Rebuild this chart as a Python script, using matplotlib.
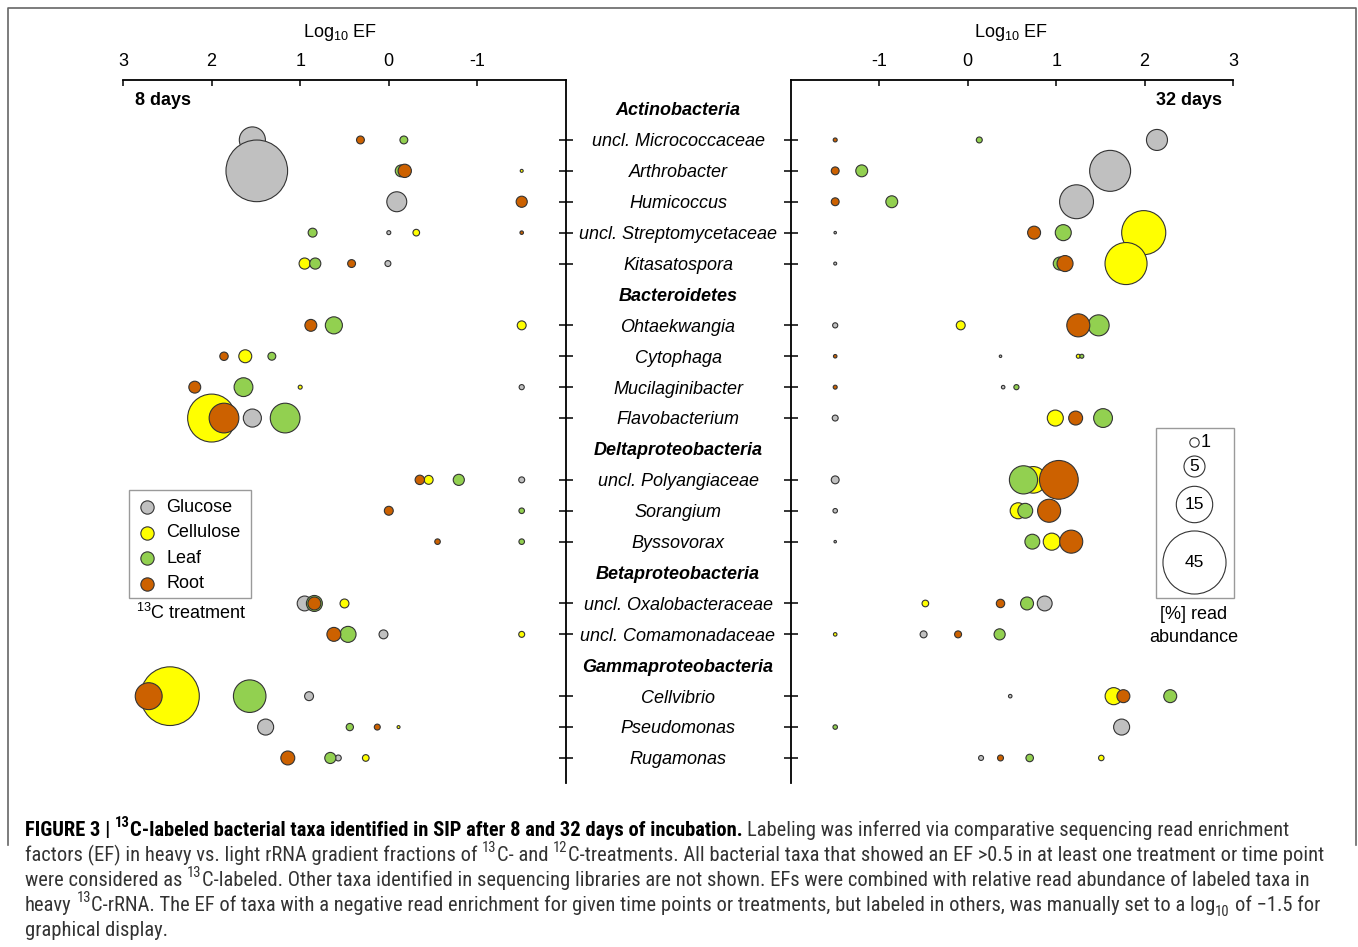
import matplotlib
matplotlib.use('Agg')
import matplotlib.pyplot as plt
import matplotlib.transforms as mtransforms
from matplotlib import font_manager as fm
from matplotlib.patches import Rectangle

plt.rcParams['font.family'] = ['Liberation Sans', 'DejaVu Sans']
plt.rcParams['mathtext.fontset'] = 'custom'
plt.rcParams['mathtext.rm'] = 'Liberation Sans'
plt.rcParams['mathtext.it'] = 'Liberation Sans:italic'
plt.rcParams['mathtext.bf'] = 'Liberation Sans:bold'
plt.rcParams['mathtext.default'] = 'regular'

# ---------------------------------------------------------------- data
rows = ['Actinobacteria', 'uncl. Micrococcaceae', 'Arthrobacter', 'Humicoccus',
        'uncl. Streptomycetaceae', 'Kitasatospora',
        'Bacteroidetes', 'Ohtaekwangia', 'Cytophaga', 'Mucilaginibacter', 'Flavobacterium',
        'Deltaproteobacteria', 'uncl. Polyangiaceae', 'Sorangium', 'Byssovorax',
        'Betaproteobacteria', 'uncl. Oxalobacteraceae', 'uncl. Comamonadaceae',
        'Gammaproteobacteria', 'Cellvibrio', 'Pseudomonas', 'Rugamonas']
headers = ['Actinobacteria', 'Bacteroidetes', 'Deltaproteobacteria',
           'Betaproteobacteria', 'Gammaproteobacteria']
taxa = [r for r in rows if r not in headers]

treatments = ['Glucose', 'Cellulose', 'Leaf', 'Root']
colors = {'Glucose': '#c0c0c0', 'Cellulose': '#ffff00', 'Leaf': '#92d050', 'Root': '#cc6100'}

# log10 EF and [%] read abundance, one value per taxon (None = not shown)
ef_8d = {
    'Glucose':   [1.54, 1.49, -0.09, 0.00, 0.01, None, None, -1.5, 1.54, -1.5, None, None, 0.95, 0.06, 0.90, 1.39, 0.57],
    'Cellulose': [None, -1.5, None, -0.31, 0.95, -1.5, 1.62, 1.00, 2.00, -0.45, None, None, 0.50, -1.5, 2.47, -0.11, 0.26],
    'Leaf':      [-0.17, -0.14, None, 0.86, 0.83, 0.62, 1.32, 1.64, 1.17, -0.79, -1.5, -1.5, 0.84, 0.46, 1.57, 0.44, 0.66],
    'Root':      [0.32, -0.18, -1.5, -1.5, 0.42, 0.88, 1.86, 2.19, 1.86, -0.35, 0.00, -0.55, 0.84, 0.62, 2.71, 0.13, 1.14],
}
ab_8d = {
    'Glucose':   [7.7, 43, 4.5, 0.18, 0.4, None, None, 0.3, 3.7, 0.4, None, None, 2.5, 0.9, 0.9, 2.9, 0.4],
    'Cellulose': [None, 0.1, None, 0.5, 1.4, 0.9, 1.9, 0.18, 26, 0.9, None, None, 0.9, 0.4, 39, 0.1, 0.5],
    'Leaf':      [0.7, 1.6, None, 0.9, 1.4, 3.3, 0.7, 4.0, 10, 1.4, 0.35, 0.35, 2.9, 2.9, 12, 0.6, 1.4],
    'Root':      [0.7, 2.0, 1.4, 0.14, 0.7, 1.6, 0.8, 1.6, 10, 1.0, 0.9, 0.35, 1.9, 2.2, 8.2, 0.4, 2.2],
}
ef_32d = {
    'Glucose':   [2.14, 1.61, 1.23, -1.5, -1.5, -1.5, 0.37, 0.40, -1.5, -1.5, -1.5, -1.5, 0.87, -0.50, 0.48, 1.74, 0.15],
    'Cellulose': [None, None, None, 1.99, 1.79, -0.08, 1.25, None, 0.99, 0.74, 0.57, 0.95, -0.48, -1.5, 1.65, None, 1.51],
    'Leaf':      [0.13, -1.20, -0.86, 1.08, 1.04, 1.48, 1.29, 0.55, 1.53, 0.63, 0.65, 0.73, 0.67, 0.36, 2.29, -1.5, 0.70],
    'Root':      [-1.5, -1.5, -1.5, 0.75, 1.10, 1.25, -1.5, -1.5, 1.22, 1.03, 0.92, 1.17, 0.37, -0.11, 1.76, None, 0.37],
}
ab_32d = {
    'Glucose':   [5.0, 19, 13, 0.07, 0.1, 0.3, 0.07, 0.14, 0.4, 0.7, 0.23, 0.07, 2.5, 0.55, 0.14, 2.9, 0.28],
    'Cellulose': [None, None, None, 22, 20, 0.9, 0.18, None, 2.9, 8.0, 2.9, 3.3, 0.5, 0.14, 3.3, None, 0.34],
    'Leaf':      [0.4, 1.6, 1.6, 2.9, 1.9, 5.0, 0.18, 0.3, 4.0, 9.0, 2.5, 2.5, 1.9, 1.4, 1.9, 0.23, 0.64],
    'Root':      [0.18, 0.7, 0.7, 1.9, 2.9, 6.0, 0.14, 0.18, 2.2, 17, 6.0, 6.0, 0.8, 0.55, 1.9, None, 0.4],
}
size_legend = [1, 5, 15, 45]
xticks = [3, 2, 1, 0, -1]

# ---------------------------------------------------------------- layout
W, H = 1358, 947
S_PER_UNIT = 45.8          # points^2 per % read abundance
EDGE = '#333333'

fig = plt.figure(figsize=(W / 100, H / 100), dpi=100)
ypos = {r: i for i, r in enumerate(rows)}

axL = fig.add_axes([123 / W, 1 - 783 / H, 443 / W, 703 / H])
axR = fig.add_axes([791 / W, 1 - 783 / H, 442 / W, 703 / H])


def draw_panel(ax, ef, ab, xlim, spine_side):
    for tr in treatments:
        xs, ys, ss = [], [], []
        for t, e, a in zip(taxa, ef[tr], ab[tr]):
            if e is None:
                continue
            xs.append(e)
            ys.append(ypos[t])
            ss.append(a * S_PER_UNIT)
        ax.scatter(xs, ys, s=ss, c=colors[tr], edgecolors=EDGE, linewidths=0.8,
                   clip_on=False, zorder=3)
    ax.set_xlim(*xlim)
    ax.set_ylim(21.81, -0.94)
    ax.xaxis.set_ticks_position('top')
    ax.set_xticks(xticks)
    ax.set_xticklabels([str(v) for v in xticks])
    ax.tick_params(axis='x', direction='in', length=4.5, width=1.1, labelsize=13, pad=7)
    ax.yaxis.set_ticks_position(spine_side)
    ax.set_yticks([ypos[t] for t in taxa])
    ax.tick_params(axis='y', direction='inout', length=10, width=1.1,
                   labelleft=False, labelright=False)
    for side in ['top', 'bottom', 'left', 'right']:
        ax.spines[side].set_visible(side in ('top', spine_side))
        ax.spines[side].set_linewidth(1.3)
    ax.patch.set_alpha(0)


draw_panel(axL, ef_8d, ab_8d, (3, -2), 'right')
draw_panel(axR, ef_32d, ab_32d, (-2, 3), 'left')

# centre taxon labels (baseline shifted so the glyphs sit centred on the row)
trans = mtransforms.blended_transform_factory(fig.transFigure, axL.transData)
trans = mtransforms.offset_copy(trans, fig=fig, y=-4.6, units='points')
for r in rows:
    hdr = r in headers
    fig.text(678 / W, ypos[r], r, transform=trans, ha='center', va='baseline', fontsize=13,
             style='italic', weight='bold' if hdr else 'normal')

# overlay in pixel coordinates for annotations
ov = fig.add_axes([0, 0, 1, 1], zorder=-1)
ov.set_xlim(0, W)
ov.set_ylim(H, 0)
ov.axis('off')

ov.text(340, 32, 'Log$_{10}$ EF', ha='center', va='center', fontsize=13)
ov.text(1011, 32, 'Log$_{10}$ EF', ha='center', va='center', fontsize=13)
ov.text(135, 100, '8 days', ha='left', va='center', fontsize=13, weight='bold')
ov.text(1222, 100, '32 days', ha='right', va='center', fontsize=13, weight='bold')

# frame
ov.plot([8, 8, 1356, 1356], [845, 8, 8, 845], color='#666666', lw=1.2, clip_on=False)

# treatment legend
ov.add_patch(Rectangle((129, 490), 122, 108, fill=False, edgecolor='#9a9a9a', lw=1))
for i, tr in enumerate(treatments):
    yy = 507 + i * 25.6
    ov.scatter([147], [yy], s=2.0 * S_PER_UNIT, c=colors[tr], edgecolors=EDGE, linewidths=0.8)
    ov.text(166, yy, tr, ha='left', va='center', fontsize=13)
ov.text(136, 613, '$^{13}$C treatment', ha='left', va='center', fontsize=13)

# size legend
ov.add_patch(Rectangle((1156, 428), 78, 170, fill=False, edgecolor='#9a9a9a', lw=1))
size_y = [442, 466, 504, 562]
for v, yy in zip(size_legend, size_y):
    ov.scatter([1194], [yy], s=v * S_PER_UNIT, c='white', edgecolors=EDGE, linewidths=0.8, zorder=3)
    if v == 1:
        ov.text(1201, yy, str(v), ha='left', va='center', fontsize=13, zorder=4)
    else:
        ov.text(1194, yy, str(v), ha='center', va='center', fontsize=12.5, zorder=4)
ov.text(1194, 614, '[%] read', ha='center', va='center', fontsize=13)
ov.text(1194, 637, 'abundance', ha='center', va='center', fontsize=13)


# ---------------------------------------------------------------- caption
def pick_condensed():
    prio = ['Liberation Sans Narrow', 'Roboto Condensed', 'Open Sans Condensed',
            'Noto Sans', 'DejaVu Sans Condensed', 'Roboto', 'Open Sans', 'DejaVu Sans']
    found = {}
    for f in fm.fontManager.ttflist:
        n = f.name
        if any(b in n for b in ('Mono', 'Serif', 'CJK', 'Display')):
            continue
        st = str(f.stretch)
        cond = ('Narrow' in n or 'Condensed' in n or
                st in ('condensed', 'semi-condensed', 'extra-condensed'))
        if cond:
            found.setdefault((n, st), set()).add(f.weight)
    if not found:
        return 'Liberation Sans', 'normal'
    def score(key):
        n, st = key
        p = prio.index(n) if n in prio else len(prio)
        st_rank = {'condensed': 0, 'semi-condensed': 1, 'extra-condensed': 2}.get(st, 1)
        return (p, st_rank)
    return sorted(found, key=score)[0]


cap_family, cap_stretch = pick_condensed()
renderer = fig.canvas.get_renderer()

caption = [
    [("FIGURE 3 | ", 'b'), ("13", 'bsup'),
     ("C-labeled bacterial taxa identified in SIP after 8 and 32 days of incubation.", 'b'),
     (" Labeling was inferred via comparative sequencing read enrichment", 'r')],
    [("factors (EF) in heavy vs. light rRNA gradient fractions of ", 'r'), ("13", 'sup'),
     ("C- and ", 'r'), ("12", 'sup'),
     ("C-treatments. All bacterial taxa that showed an EF >0.5 in at least one treatment or time point", 'r')],
    [("were considered as ", 'r'), ("13", 'sup'),
     ("C-labeled. Other taxa identified in sequencing libraries are not shown. EFs were combined with relative read abundance of labeled taxa in", 'r')],
    [("heavy ", 'r'), ("13", 'sup'),
     ("C-rRNA. The EF of taxa with a negative read enrichment for given time points or treatments, but labeled in others, was manually set to a log", 'r'),
     ("10", 'sub'), (" of \u22121.5 for", 'r')],
    [("graphical display.", 'r')],
]
# right end of each caption line in the reference, pixels
caption_ends = [1338, 1318, 1308, 1321, 162]


def seg_props(kind, fs):
    small = kind in ('sup', 'bsup', 'sub')
    return dict(fontsize=fs * 0.72 if small else fs,
                weight='bold' if kind in ('b', 'bsup') else 'normal',
                family=[cap_family, 'Liberation Sans'], fontstretch=cap_stretch,
                color='black' if kind in ('b', 'bsup') else '#333333')


def measure(s, props):
    t = fig.text(0, 0, '|' + s + '|', **props)
    w = t.get_window_extent(renderer).width
    t.set_text('||')
    w0 = t.get_window_extent(renderer).width
    t.remove()
    return w - w0


base = 12.0
ratios = []
for line, end in zip(caption[:4], caption_ends[:4]):
    w = sum(measure(s, seg_props(k, base)) for s, k in line)
    ratios.append((end - 25) / w)
cap_fs = min(base * min(ratios), 15.5)

for li, line in enumerate(caption):
    x = 25.0
    ybase = 836 + 25 * li
    for s, k in line:
        p = seg_props(k, cap_fs)
        lead = s[:len(s) - len(s.lstrip())]
        dy = 0
        if k in ('sup', 'bsup'):
            dy = -0.42 * cap_fs * 100 / 72
        elif k == 'sub':
            dy = 0.22 * cap_fs * 100 / 72
        xd = x + (measure(lead, p) if lead else 0)
        fig.text(xd / W, 1 - (ybase + dy) / H, s.strip(), va='baseline', ha='left', **p)
        x += measure(s, p)

fig.savefig('out.png', dpi=100)
